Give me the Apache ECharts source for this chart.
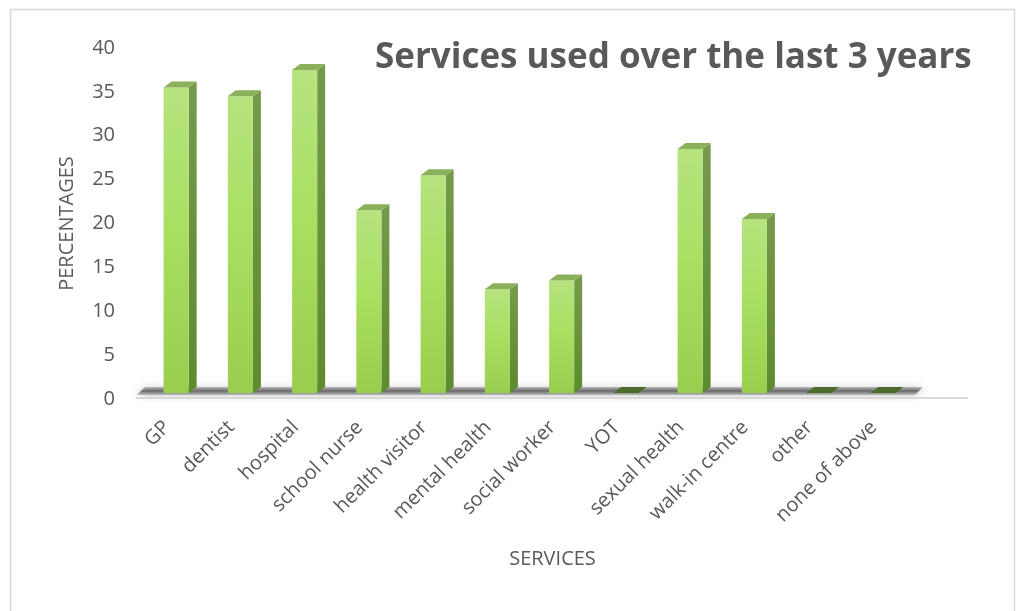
<!DOCTYPE html>
<html>
<head>
<meta charset="utf-8">
<script src="https://cdn.jsdelivr.net/npm/echarts@6/dist/echarts.min.js"></script>
<style>
  html, body { margin: 0; padding: 0; background: #ffffff; }
  #chart { width: 1021px; height: 611px; }
</style>
</head>
<body>
<div id="chart"></div>
<script>
const categories = ['GP', 'dentist', 'hospital', 'school nurse', 'health visitor', 'mental health',
  'social worker', 'YOT', 'sexual health', 'walk-in centre', 'other', 'none of above'];
const percentages = [35.5, 34.5, 37.5, 21.5, 25.5, 12.5, 13.5, 0, 28.5, 20.5, 0, 0];
const yTicks = [0, 5, 10, 15, 20, 25, 30, 35, 40];

const FONT = '"Open Sans", "Noto Sans", sans-serif';
const TEXT = '#595959';

// pseudo-3D column: front face, right side and top cap
const DEPTH_X = 8, DEPTH_Y = 6, LIFT = 6;
function renderColumn(params, api) {
  const idx = api.value(0);
  const val = api.value(1);
  const base = api.coord([idx, 0]);
  const top = api.coord([idx, val]);
  const band = api.size([1, 0])[0];
  const w = band * 0.39;
  const x0 = base[0] - w / 2;
  const yb = base[1] - LIFT;
  const yt = Math.min(top[1], yb);
  const children = [];
  if (yb - yt > 0.5) {
    children.push({
      type: 'polygon',
      shape: { points: [[x0 + w, yt], [x0 + w + DEPTH_X, yt - DEPTH_Y], [x0 + w + DEPTH_X, yb - DEPTH_Y], [x0 + w, yb]] },
      style: { fill: new echarts.graphic.LinearGradient(0, 0, 0, 1, [
        { offset: 0, color: '#769a4c' }, { offset: 1, color: '#5e8a2f' }]) }
    });
    children.push({
      type: 'rect',
      shape: { x: x0, y: yt, width: w, height: yb - yt },
      style: { fill: new echarts.graphic.LinearGradient(0, 0, 0, 1, [
        { offset: 0, color: '#b6e37f' }, { offset: 0.45, color: '#a9e062' }, { offset: 1, color: '#9acd4e' }]) }
    });
  }
  children.push({
    type: 'polygon',
    shape: { points: [[x0, yt], [x0 + w, yt], [x0 + w + DEPTH_X, yt - DEPTH_Y], [x0 + DEPTH_X, yt - DEPTH_Y]] },
    style: { fill: val > 0 ? '#8bb05b' : '#4b6c2b' }
  });
  return { type: 'group', children };
}

// floor slab under the columns, spanning all categories
function renderFloor(params, api) {
  const first = api.coord([0, 0]);
  const last = api.coord([categories.length - 1, 0]);
  const band = api.size([1, 0])[0];
  const left = first[0] - band / 2;
  const right = last[0] + band / 2;
  const y0 = first[1];
  return {
    type: 'group',
    children: [
      {
        type: 'polygon',
        shape: { points: [[left - 7, y0 - 4], [right, y0 - 4], [right + 8, y0 - 12], [left + 1, y0 - 12]] },
        style: {
          fill: new echarts.graphic.LinearGradient(0, 0, 0, 1, [
            { offset: 0, color: 'rgba(110,110,110,0.4)' },
            { offset: 0.5, color: 'rgba(80,80,80,0.8)' },
            { offset: 1, color: 'rgba(160,160,160,0.6)' }]),
          shadowBlur: 8, shadowColor: 'rgba(0,0,0,0.4)'
        }
      },
      {
        type: 'rect',
        shape: { x: left - 8, y: y0 - 2, width: right - left + band * 0.95, height: 2 },
        style: { fill: '#d9d9d9' }
      }
    ]
  };
}

const chart = echarts.init(document.getElementById('chart'), null, { renderer: 'canvas' });
chart.setOption({
  backgroundColor: '#ffffff',
  animation: false,
  textStyle: { fontFamily: FONT },
  title: {
    text: 'Services used over the last 3 years',
    left: 370, top: 36,
    textStyle: { fontFamily: FONT, fontSize: 35, fontWeight: 'bold', color: TEXT }
  },
  graphic: [{
    type: 'rect', left: 8, top: 7, z: -10,
    shape: { width: 1004, height: 620 },
    style: { fill: 'none', stroke: '#d9d9d9', lineWidth: 1.5 }
  }],
  grid: { left: 144, right: 106, top: 48, bottom: 212 },
  xAxis: {
    type: 'category',
    data: categories,
    axisLine: { show: false },
    axisTick: { show: false },
    axisLabel: {
      rotate: 45, fontSize: 20, color: TEXT, margin: 16, fontFamily: FONT, interval: 0,
      padding: [0, 13, 0, 0]
    },
    name: 'SERVICES',
    nameLocation: 'middle',
    nameGap: 150,
    nameTextStyle: { fontSize: 20, color: TEXT, fontFamily: FONT, padding: [0, 0, 0, 46] }
  },
  yAxis: {
    type: 'value',
    min: yTicks[0], max: yTicks[yTicks.length - 1], interval: yTicks[1] - yTicks[0],
    axisLine: { show: false },
    axisTick: { show: false },
    splitLine: { show: false },
    axisLabel: { fontSize: 20, color: TEXT, margin: 29, fontFamily: FONT },
    name: 'PERCENTAGES',
    nameLocation: 'middle',
    nameRotate: 90,
    nameGap: 67,
    nameTextStyle: { fontSize: 20, color: TEXT, fontFamily: FONT }
  },
  series: [
    {
      type: 'custom',
      name: 'floor',
      renderItem: renderFloor,
      data: [[0, 0]],
      encode: { x: 0, y: 1 },
      z: 1, silent: true
    },
    {
      type: 'custom',
      name: 'Services used',
      renderItem: renderColumn,
      data: percentages.map((v, i) => [i, v]),
      encode: { x: 0, y: 1 },
      z: 2
    }
  ]
});
</script>
</body>
</html>
